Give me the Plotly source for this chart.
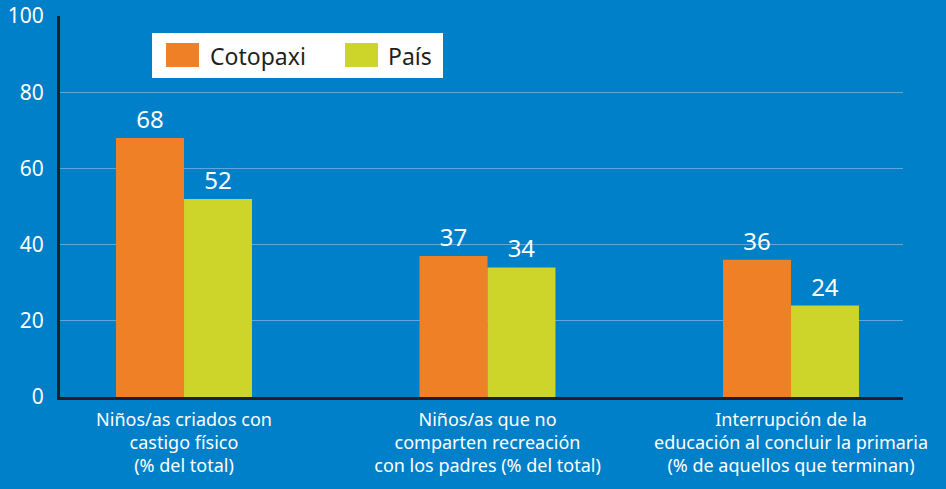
import plotly.graph_objects as go

categories = [
    "Niños/as criados con<br>castigo físico<br>(% del total)",
    "Niños/as que no<br>comparten recreación<br>con los padres (% del total)",
    "Interrupción de la<br>educación al concluir la primaria<br>(% de aquellos que terminan)",
]
series_names = ["Cotopaxi", "País"]
cotopaxi = [68, 37, 36]
pais = [52, 34, 24]
y_ticks = [0, 20, 40, 60, 80, 100]

colors = ["#F08026", "#CDD42A"]
BG = "#0080C8"
FONT = "Noto Sans"

fig = go.Figure()
for name, vals, col in zip(series_names, [cotopaxi, pais], colors):
    fig.add_trace(go.Bar(
        x=categories, y=vals, name=name, marker=dict(color=col, line=dict(width=0)),
        text=[str(v) for v in vals], textposition="outside",
        textfont=dict(color="white", size=24, family=FONT), cliponaxis=False,
        showlegend=False,
    ))

W, H = 946, 489
L, R, T, B = 60, 43, 16, 92
pw, ph = W - L - R, H - T - B

def px(x):
    return (x - L) / pw

def py(y):
    return (H - B - y) / ph

shapes = [
    dict(type="rect", xref="paper", yref="paper", x0=px(152), x1=px(443), y0=py(78), y1=py(33),
         fillcolor="white", line=dict(width=0), layer="above"),
    dict(type="rect", xref="paper", yref="paper", x0=px(166), x1=px(199), y0=py(67), y1=py(43),
         fillcolor=colors[0], line=dict(width=0), layer="above"),
    dict(type="rect", xref="paper", yref="paper", x0=px(345), x1=px(378), y0=py(67), y1=py(43),
         fillcolor=colors[1], line=dict(width=0), layer="above"),
]
annotations = [
    dict(xref="paper", yref="paper", x=px(208), y=py(56), text=series_names[0], showarrow=False,
         xanchor="left", yanchor="middle", font=dict(color="#231F20", size=23, family=FONT)),
    dict(xref="paper", yref="paper", x=px(386), y=py(56), text=series_names[1], showarrow=False,
         xanchor="left", yanchor="middle", font=dict(color="#231F20", size=23, family=FONT)),
]

fig.update_layout(
    width=W, height=H,
    margin=dict(l=L, r=R, t=T, b=B, autoexpand=False),
    paper_bgcolor=BG, plot_bgcolor=BG,
    barmode="group", bargap=0.552, bargroupgap=0,
    shapes=shapes, annotations=annotations,
    font=dict(family=FONT, color="white"),
    hovermode=False,
    xaxis=dict(
        type="category", range=[-0.4086, 2.369], showgrid=False,
        showline=True, linecolor="#231F20", linewidth=3,
        ticks="outside", ticklen=4, tickcolor=BG,
        tickfont=dict(color="white", size=18, family=FONT),
    ),
    yaxis=dict(
        range=[0, 100], tickvals=y_ticks, showgrid=True, gridcolor="#5AA8DC", gridwidth=1,
        zeroline=False, showline=True, linecolor="#231F20", linewidth=3,
        ticks="outside", ticklen=9, tickcolor=BG,
        tickfont=dict(color="white", size=21, family=FONT),
    ),
)

fig.write_html(
    "out.html",
    config={"displayModeBar": False},
    post_script="document.body.style.margin='0';document.body.style.overflow='hidden';",
)
